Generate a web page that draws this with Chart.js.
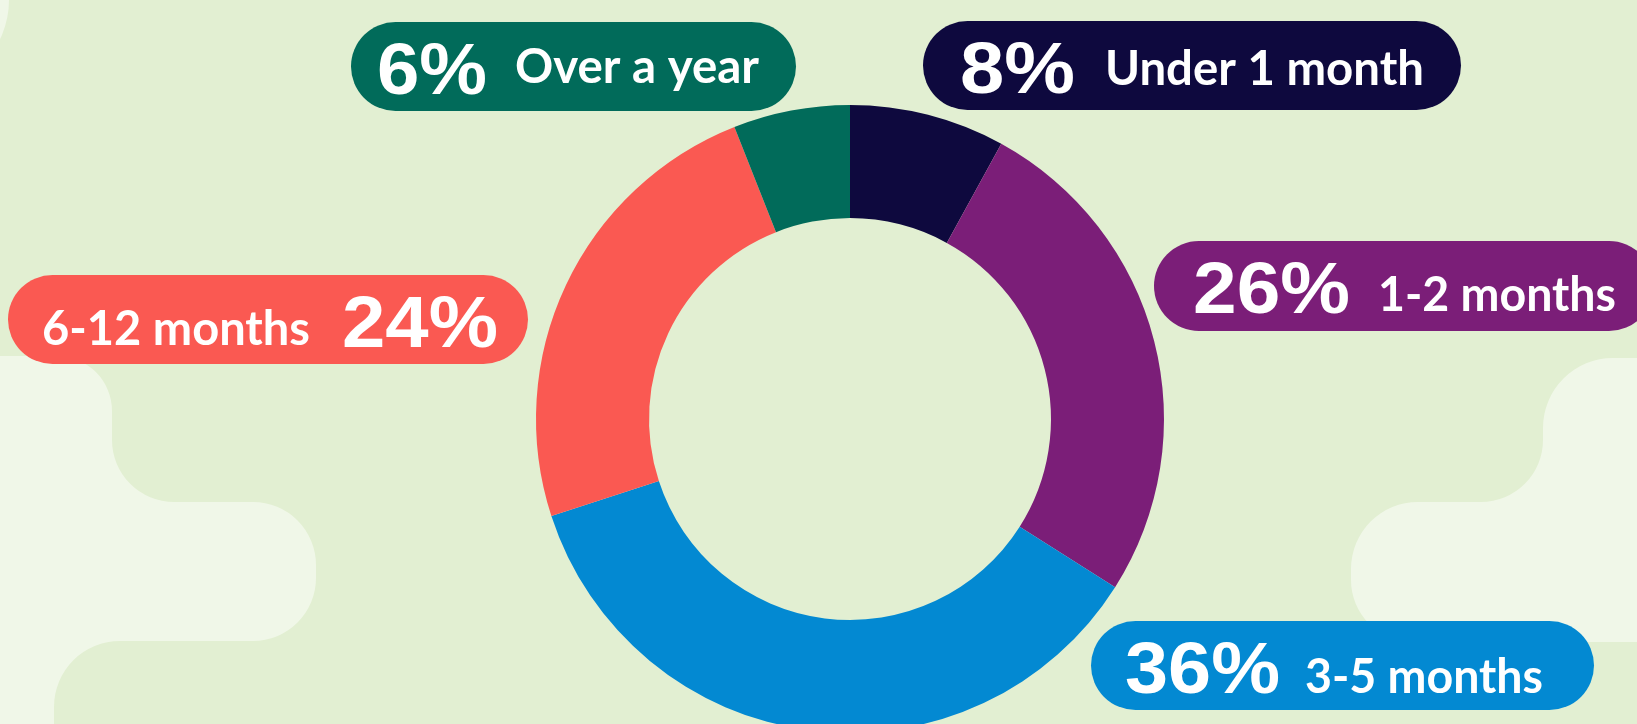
<!DOCTYPE html>
<html lang="en">
<head>
<meta charset="UTF-8" />
<title>Time to find a job</title>
<script src="https://cdn.jsdelivr.net/npm/chart.js@4.4.1/dist/chart.umd.min.js"></script>
<style>
    html, body {
        margin: 0;
        padding: 0;
        width: 1637px;
        height: 724px;
        overflow: hidden;
        background: #e2efd2;
    }
    .chart-wrap {
        position: absolute;
        left: 0;
        top: 0;
        width: 1637px;
        height: 838px;
    }
</style>
</head>
<body>
<div class="chart-wrap">
    <canvas id="durationChart"></canvas>
</div>

<script>
// data
const categories = ['Under 1 month', '1-2 months', '3-5 months', '6-12 months', 'Over a year'];
const shares = [8, 26, 36, 24, 6];
const sliceColors = ['#0e093e', '#7b1e78', '#0389d2', '#fa5952', '#016b5a'];

// where each label pill sits (same order as categories)
const pills = [
    { x: 923,  y: 21,  w: 538, h: 89, base: 85,  pctX: 960,  pctW: 115, nameX: 1105, nameW: 319 },
    { x: 1154, y: 241, w: 500, h: 90, base: 311, pctX: 1193, pctW: 157, nameX: 1378, nameW: 238 },
    { x: 1091, y: 621, w: 503, h: 89, base: 693, pctX: 1125, pctW: 155, nameX: 1305, nameW: 238 },
    { x: 8,    y: 275, w: 520, h: 89, base: 345, pctX: 342,  pctW: 156, nameX: 42,   nameW: 268 },
    { x: 351,  y: 22,  w: 445, h: 89, base: 83,  pctX: 377,  pctW: 110, nameX: 515,  nameW: 244 }
];

function roundPill(ctx, x, y, w, h) {
    const r = h / 2;
    ctx.beginPath();
    ctx.moveTo(x + r, y);
    ctx.lineTo(x + w - r, y);
    ctx.arc(x + w - r, y + r, r, -Math.PI / 2, Math.PI / 2);
    ctx.lineTo(x + r, y + h);
    ctx.arc(x + r, y + r, r, Math.PI / 2, Math.PI * 1.5);
    ctx.closePath();
}

// pale blobs behind the chart
const backdrop = {
    id: 'backdrop',
    beforeDraw(chart) {
        const ctx = chart.ctx;
        ctx.save();
        ctx.fillStyle = '#f0f7e8';

        ctx.beginPath();
        ctx.moveTo(-10, 356);
        ctx.lineTo(57, 356);
        ctx.arcTo(112, 356, 112, 411, 55);
        ctx.lineTo(112, 440);
        ctx.arcTo(112, 502, 174, 502, 62);
        ctx.lineTo(253, 502);
        ctx.arcTo(316, 502, 316, 565, 63);
        ctx.lineTo(316, 578);
        ctx.arcTo(316, 641, 253, 641, 63);
        ctx.lineTo(120, 641);
        ctx.arcTo(54, 641, 54, 707, 66);
        ctx.lineTo(54, 760);
        ctx.lineTo(-10, 760);
        ctx.closePath();
        ctx.fill();

        ctx.beginPath();
        ctx.moveTo(1700, 358);
        ctx.lineTo(1613, 358);
        ctx.arcTo(1543, 358, 1543, 428, 70);
        ctx.lineTo(1543, 440);
        ctx.arcTo(1543, 502, 1481, 502, 62);
        ctx.lineTo(1418, 502);
        ctx.arcTo(1351, 502, 1351, 569, 67);
        ctx.lineTo(1351, 580);
        ctx.arcTo(1351, 642, 1413, 642, 62);
        ctx.lineTo(1700, 642);
        ctx.closePath();
        ctx.fill();

        ctx.beginPath();
        ctx.arc(-81, 0, 90, 0, Math.PI * 2);
        ctx.fill();
        ctx.restore();
    }
};

// pills with the percentage and the category name
const pillLabels = {
    id: 'pillLabels',
    afterDraw(chart) {
        const ctx = chart.ctx;
        const ds = chart.data.datasets[0];
        ctx.save();
        chart.data.labels.forEach((name, i) => {
            const p = pills[i];
            ctx.fillStyle = ds.backgroundColor[i];
            roundPill(ctx, p.x, p.y, p.w, p.h);
            ctx.fill();

            ctx.fillStyle = '#ffffff';
            ctx.textBaseline = 'alphabetic';
            ctx.textAlign = 'left';

            // big number, stretched to the width it takes in the original
            const pct = ds.data[i] + '%';
            ctx.font = 'bold 73px "Liberation Sans"';
            const natural = ctx.measureText(pct).width;
            ctx.save();
            ctx.translate(p.pctX, p.y + p.h / 2 + 27);
            ctx.scale(p.pctW / natural, 1);
            ctx.fillText(pct, 0, 0);
            ctx.restore();

            ctx.font = 'bold 48px Lato';
            ctx.fillText(name, p.nameX, p.base, p.nameW);
        });
        ctx.restore();
    }
};

const ctx = document.getElementById('durationChart').getContext('2d');
new Chart(ctx, {
    type: 'doughnut',
    data: {
        labels: categories,
        datasets: [{
            data: shares,
            backgroundColor: sliceColors,
            borderWidth: 0,
            hoverOffset: 0,
            offset: 0
        }]
    },
    options: {
        responsive: true,
        maintainAspectRatio: false,
        animation: false,
        cutout: '64%',
        layout: {
            padding: { top: 105, bottom: 105, left: 168, right: 105 }
        },
        plugins: {
            legend: { display: false },
            tooltip: { enabled: false }
        }
    },
    plugins: [backdrop, pillLabels]
});
</script>
</body>
</html>
